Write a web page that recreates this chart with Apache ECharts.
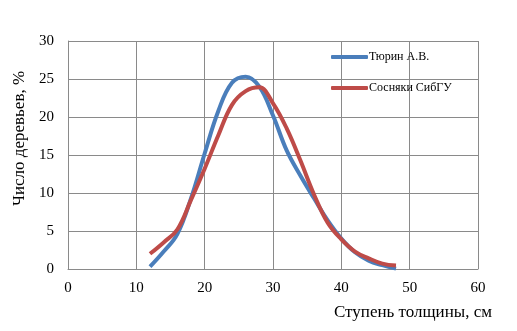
<!DOCTYPE html>
<html><head><meta charset="utf-8">
<script src="https://cdn.jsdelivr.net/npm/echarts@6/dist/echarts.min.js"></script>
<style>html,body{margin:0;padding:0;background:#fff}#c{width:517px;height:331px}</style>
</head><body><div id="c"></div>
<script>
const steps = [12, 14, 16, 18, 20, 22, 24, 26, 28, 30, 32, 34, 36, 38, 40, 42, 44, 46, 48];
const turin = [0.3, 2.3, 4.6, 9.3, 15.2, 20.8, 24.5, 25.3, 24.0, 20.2, 15.6, 12.3, 9.3, 6.4, 4.0, 2.2, 1.1, 0.5, 0.05];
const sosnyaki = [2.0, 3.5, 5.2, 9.1, 13.2, 17.6, 21.6, 23.4, 23.9, 21.8, 18.5, 14.3, 9.8, 6.1, 3.9, 2.3, 1.4, 0.7, 0.45];
const seriesNames = ['Тюрин А.В.', 'Сосняки СибГУ'];
const xTicks = [0, 10, 20, 30, 40, 50, 60];
const yTicks = [0, 5, 10, 15, 20, 25, 30];

const font = 'Liberation Serif';
const gridColor = '#8a8a8a';
const pair = (xs, ys) => xs.map((x, i) => [x, ys[i]]);

const chart = echarts.init(document.getElementById('c'), null, {renderer: 'canvas'});
chart.setOption({
  animation: false,
  backgroundColor: '#fff',
  grid: {left: 68, top: 41, width: 410, height: 228, containLabel: false},
  legend: {
    orient: 'vertical', left: 326, top: 46, itemGap: 19,
    icon: 'roundRect', itemWidth: 37, itemHeight: 4,
    textStyle: {fontFamily: font, fontSize: 12, color: '#000', padding: [0,0,0,-4]},
    data: seriesNames
  },
  xAxis: {
    type: 'value', min: xTicks[0], max: xTicks[xTicks.length-1], interval: 10,
    name: 'Ступень толщины, см', nameLocation: 'end', nameGap: 14,
    nameTextStyle: {fontFamily: font, fontSize: 17, color: '#000', align: 'right', verticalAlign: 'top', padding: [35,0,0,0]},
    axisLine: {lineStyle: {color: gridColor}}, axisTick: {show: false},
    axisLabel: {fontFamily: font, fontSize: 15, color: '#000', margin: 12},
    splitLine: {lineStyle: {color: gridColor, width: 1}}
  },
  yAxis: {
    type: 'value', min: yTicks[0], max: yTicks[yTicks.length-1], interval: 5,
    name: 'Число деревьев, %', nameLocation: 'middle', nameGap: 34,
    nameTextStyle: {fontFamily: font, fontSize: 17, color: '#000', padding: [0,0,0,33]},
    axisLine: {show: true, lineStyle: {color: gridColor}}, axisTick: {show: false},
    axisLabel: {fontFamily: font, fontSize: 15, color: '#000', margin: 14},
    splitLine: {lineStyle: {color: gridColor, width: 1}}
  },
  series: [
    {name: seriesNames[0], type: 'line', smooth: 0.4, symbol: 'none', data: pair(steps, turin),
     lineStyle: {color: '#4a7ebb', width: 4}, itemStyle: {color: '#4a7ebb'}},
    {name: seriesNames[1], type: 'line', smooth: 0.4, symbol: 'none', data: pair(steps, sosnyaki),
     lineStyle: {color: '#be4b48', width: 4}, itemStyle: {color: '#be4b48'}}
  ]
});
</script></body></html>
